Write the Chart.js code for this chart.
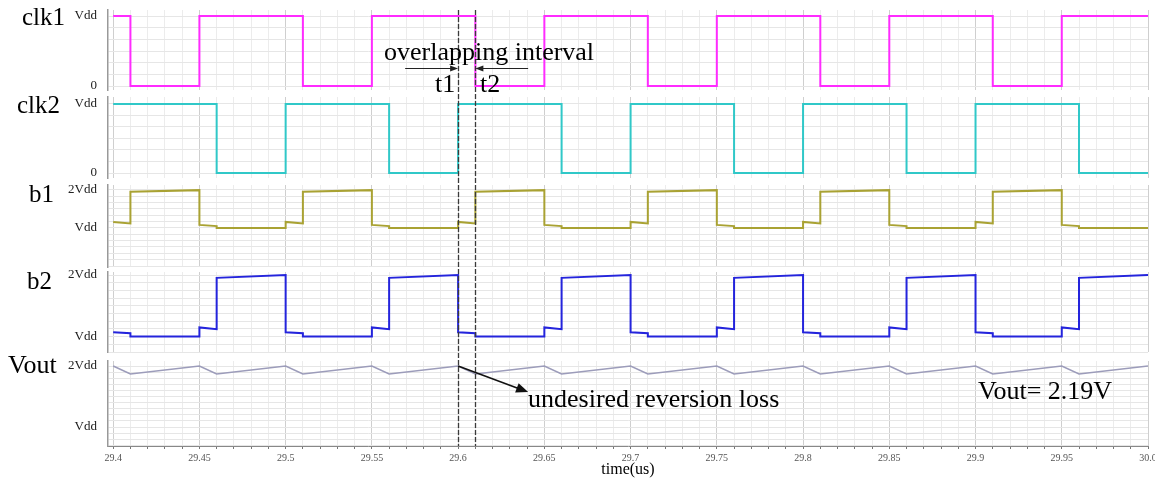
<!DOCTYPE html>
<html><head><meta charset="utf-8">
<script src="https://cdn.jsdelivr.net/npm/chart.js@4/dist/chart.umd.min.js"></script>
<style>
html,body{margin:0;padding:0;background:#fff;}
#wrap{position:relative;width:1155px;height:481px;overflow:hidden;background:#fff;}
#wrap canvas{position:absolute;left:0;}
.t{position:absolute;font-family:"Liberation Serif","Times New Roman",serif;color:#000;white-space:nowrap;}
</style></head><body><div id="wrap"></div>
<script>
// ---------------- data (time in us, voltages in units of Vdd) ----------------
const clk1Time = [29.4,29.41,29.41,29.45,29.45,29.51,29.51,29.55,29.55,29.61,29.61,29.65,29.65,29.71,29.71,29.75,29.75,29.81,29.81,29.85,29.85,29.91,29.91,29.95,29.95,30.0];
const clk1Value = [1,1,0,0,1,1,0,0,1,1,0,0,1,1,0,0,1,1,0,0,1,1,0,0,1,1];

const clk2Time = [29.4,29.46,29.46,29.5,29.5,29.56,29.56,29.6,29.6,29.66,29.66,29.7,29.7,29.76,29.76,29.8,29.8,29.86,29.86,29.9,29.9,29.96,29.96,30.0];
const clk2Value = [1,1,0,0,1,1,0,0,1,1,0,0,1,1,0,0,1,1,0,0,1,1,0,0];

const bTime = [29.4,29.41,29.41,29.45,29.45,29.46,29.46,29.5,
               29.5,29.51,29.51,29.55,29.55,29.56,29.56,29.6,
               29.6,29.61,29.61,29.65,29.65,29.66,29.66,29.7,
               29.7,29.71,29.71,29.75,29.75,29.76,29.76,29.8,
               29.8,29.81,29.81,29.85,29.85,29.86,29.86,29.9,
               29.9,29.91,29.91,29.95,29.95,29.96,29.96,30.0];
const b1Value = [1.16,1.12,1.955,1.995,1.08,1.05,1.0,1.0,
                 1.16,1.12,1.955,1.995,1.08,1.05,1.0,1.0,
                 1.16,1.12,1.955,1.995,1.08,1.05,1.0,1.0,
                 1.16,1.12,1.955,1.995,1.08,1.05,1.0,1.0,
                 1.16,1.12,1.955,1.995,1.08,1.05,1.0,1.0,
                 1.16,1.12,1.955,1.995,1.08,1.05,1.0,1.0];
const b2Value = [1.07,1.055,1.0,1.0,1.15,1.12,1.955,2.0,
                 1.07,1.055,1.0,1.0,1.15,1.12,1.955,2.0,
                 1.07,1.055,1.0,1.0,1.15,1.12,1.955,2.0,
                 1.07,1.055,1.0,1.0,1.15,1.12,1.955,2.0,
                 1.07,1.055,1.0,1.0,1.15,1.12,1.955,2.0,
                 1.07,1.055,1.0,1.0,1.15,1.12,1.955,2.0];

const voutTime = [29.4,29.41,29.45,29.46,29.5,29.51,29.55,29.56,29.6,29.61,29.65,29.66,29.7,29.71,29.75,29.76,29.8,29.81,29.85,29.86,29.9,29.91,29.95,29.96,30.0];
const voutValue = [2.0,1.87,2.0,1.87,2.0,1.87,2.0,1.87,2.0,1.87,2.0,1.87,2.0,1.87,2.0,1.87,2.0,1.87,2.0,1.87,2.0,1.87,2.0,1.87,2.0];

const xTickValues = [29.4,29.45,29.5,29.55,29.6,29.65,29.7,29.75,29.8,29.85,29.9,29.95,30.0];
const xTickLabels = ['29.4','29.45','29.5','29.55','29.6','29.65','29.7','29.75','29.8','29.85','29.9','29.95','30.0'];
const clkTickValues = [0,1];
const clkTickLabels = ['0','Vdd'];
const bTickValues = [1,2];
const bTickLabels = ['Vdd','2Vdd'];
const panelNames = ['clk1','clk2','b1','b2','Vout'];
const markerTimes = [29.6,29.61];
const xAxisTitle = 'time(us)';
const annotationTexts = ['overlapping interval','t1','t2','undesired reversion loss','Vout= 2.19V'];

// ---------------- layout / style ----------------
const W = 1155, H = 481, M = 12, AXW = 108, PADR = 7;
const XMIN = 29.397, XMAX = 30.0;
const SERIF = '"Liberation Serif","Times New Roman",serif';
const wrap = document.getElementById('wrap');

function gridTicks(min, max, step){
  const out=[];
  for(let k=Math.ceil(min/step-1e-9); k*step<=max+1e-9; k++) out.push(+(k*step).toFixed(6));
  return out;
}
function labelOf(v, vals, labs){
  for(let i=0;i<vals.length;i++) if(Math.abs(vals[i]-v)<1e-6) return labs[i];
  return '';
}
const xGrid = gridTicks(29.4, 30.0, 0.01);
const isMajor = v => Math.round(v*100) % 5 === 0;

const panels = [
  {t:clk1Time, v:clk1Value, color:'#ff2bff', lw:2,   top:10,  bottom:90,  min:-0.057, max:1.086, step:1/6, tv:clkTickValues, tl:clkTickLabels},
  {t:clk2Time, v:clk2Value, color:'#30c8c8', lw:2,   top:97,  bottom:178, min:-0.072, max:1.10,  step:1/6, tv:clkTickValues, tl:clkTickLabels},
  {t:bTime,    v:b1Value,   color:'#a9a233', lw:2,   top:185, bottom:267, min:-0.026, max:2.13,  step:1/6, tv:bTickValues,   tl:bTickLabels},
  {t:bTime,    v:b2Value,   color:'#2424dc', lw:2,   top:272, bottom:352, min:0.75,   max:2.05,  step:1/8, tv:bTickValues,   tl:bTickLabels},
  {t:voutTime, v:voutValue, color:'#9c9cba', lw:1.6, top:361, bottom:446, min:0.689,  max:2.082, step:0.1, tv:bTickValues,   tl:bTickLabels, last:true}
];

function makeCanvas(top, height){
  const c = document.createElement('canvas');
  c.width = W; c.height = height;
  c.style.top = top+'px'; c.style.width = W+'px'; c.style.height = height+'px';
  wrap.appendChild(c);
  return c;
}
function arrow(ctx, x1, y1, x2, y2, len, half){
  const a = Math.atan2(y2-y1, x2-x1);
  ctx.beginPath(); ctx.moveTo(x1,y1); ctx.lineTo(x2 - Math.cos(a)*len*0.8, y2 - Math.sin(a)*len*0.8); ctx.stroke();
  ctx.beginPath();
  ctx.moveTo(x2,y2);
  ctx.lineTo(x2 - Math.cos(a)*len - Math.sin(a)*half, y2 - Math.sin(a)*len + Math.cos(a)*half);
  ctx.lineTo(x2 - Math.cos(a)*len + Math.sin(a)*half, y2 - Math.sin(a)*len - Math.cos(a)*half);
  ctx.closePath(); ctx.fill();
}

// reversion-loss arrow, in Vout data coordinates
const reversionArrow = {from:[29.6, 2.0], to:[29.6406, 1.574]};

panels.forEach((p) => {
  const last = !!p.last;
  const cTop = p.top - M;
  const cH = last ? H - cTop : (p.bottom - p.top) + 2*M;
  const canvas = makeCanvas(cTop, cH);
  const yGrid = gridTicks(p.min, p.max, p.step);
  const plugins = [];
  if (last) {
    plugins.push({id:'rev', afterDatasetsDraw(chart){
      const ctx = chart.ctx, xs = chart.scales.x, ys = chart.scales.y;
      ctx.save(); ctx.strokeStyle='#111'; ctx.fillStyle='#111'; ctx.lineWidth=1.6;
      arrow(ctx, xs.getPixelForValue(reversionArrow.from[0]), ys.getPixelForValue(reversionArrow.from[1]),
                 xs.getPixelForValue(reversionArrow.to[0]), ys.getPixelForValue(reversionArrow.to[1]), 12, 5);
      ctx.restore();
    }});
  }
  new Chart(canvas, {
    type:'line',
    data:{datasets:[{data:p.t.map((x,i)=>({x:x, y:p.v[i]})), borderColor:p.color, borderWidth:p.lw,
      pointRadius:0, tension:0, fill:false}]},
    options:{
      responsive:false, animation:false, events:[],
      layout:{padding:{left:0, right:PADR, top:M, bottom:last?0:M}},
      plugins:{legend:{display:false}, tooltip:{enabled:false}},
      scales:{
        x:{type:'linear', min:XMIN, max:XMAX,
          afterBuildTicks:s=>{ s.ticks = xGrid.map(v=>({value:v})); },
          afterFit:s=>{ s.paddingLeft=0; s.paddingRight=0; s.height = last ? 35 : 0; },
          grid:{color:c=> (c.tick && isMajor(c.tick.value)) ? '#cfcfcf' : '#ececec', lineWidth:1,
                drawTicks:last, tickLength:3, tickColor:'#777'},
          border:{display:last, color:'#888', width:1},
          ticks:{display:last, autoSkip:false, maxRotation:0, minRotation:0, padding:3,
                 font:{family:SERIF, size:10}, color:'#555',
                 callback:v=>labelOf(v, xTickValues, xTickLabels)},
          title:{display:last, text:xAxisTitle, color:'#000', font:{family:SERIF, size:16}, padding:{top:0, bottom:1.4}}
        },
        y:{type:'linear', min:p.min, max:p.max,
          afterBuildTicks:s=>{ s.ticks = yGrid.map(v=>({value:v})); },
          afterFit:s=>{ s.width = AXW; s.paddingTop=0; s.paddingBottom=0; },
          grid:{color:'#e6e6e6', lineWidth:1, drawTicks:false},
          border:{color:'#999', width:1.5},
          ticks:{autoSkip:false, padding:11, font:{family:SERIF, size:13}, color:'#222',
                 callback:v=>labelOf(v, p.tv, p.tl)}
        }
      }
    },
    plugins:plugins
  });
});

// overlay: dashed time markers and overlap arrows, on the same x scale
const ov = makeCanvas(0, H);
const overlapArrows = [{from:29.5693, to:29.6}, {from:29.6406, to:29.61}];
new Chart(ov, {
  type:'line',
  data:{datasets:[]},
  options:{
    responsive:false, animation:false, events:[],
    layout:{padding:{left:AXW, right:PADR, top:0, bottom:0}},
    plugins:{legend:{display:false}, tooltip:{enabled:false}},
    scales:{
      x:{type:'linear', min:XMIN, max:XMAX, grid:{display:false}, border:{display:false},
         ticks:{display:false}, afterFit:s=>{ s.paddingLeft=0; s.paddingRight=0; s.height=0; }},
      y:{display:false, min:0, max:1}
    }
  },
  plugins:[{id:'marks', afterDraw(chart){
    const ctx = chart.ctx, xs = chart.scales.x;
    ctx.save();
    ctx.strokeStyle='#3a3a3a'; ctx.lineWidth=1.3; ctx.setLineDash([5,2]);
    markerTimes.forEach(t=>{
      const x = Math.round(xs.getPixelForValue(t))+0.5;
      ctx.beginPath(); ctx.moveTo(x, panels[0].top); ctx.lineTo(x, panels[4].bottom); ctx.stroke();
    });
    ctx.setLineDash([]);
    ctx.strokeStyle='#222'; ctx.fillStyle='#222'; ctx.lineWidth=1;
    overlapArrows.forEach(a=>{
      arrow(ctx, xs.getPixelForValue(a.from), 68.5, xs.getPixelForValue(a.to), 68.5, 8, 3);
    });
    ctx.restore();
  }}]
});

// texts
function addText(txt, left, baseline, size){
  const d = document.createElement('div');
  d.className='t'; d.textContent=txt;
  d.style.fontSize=size+'px'; d.style.lineHeight=size+'px';
  d.style.left=left+'px'; d.style.top=(baseline-0.8375*size)+'px';
  wrap.appendChild(d);
}
const nameLayout = [[22,25,25],[17,113,25],[29,202,25],[27,289,25],[8,374,26]];
panelNames.forEach((n,i)=>addText(n, nameLayout[i][0], nameLayout[i][1], nameLayout[i][2]));
const annLayout = [[384,60.5,26],[435,93,26],[480,93,26],[528,408,26],[978,400,26]];
annotationTexts.forEach((n,i)=>addText(n, annLayout[i][0], annLayout[i][1], annLayout[i][2]));
</script></body></html>
